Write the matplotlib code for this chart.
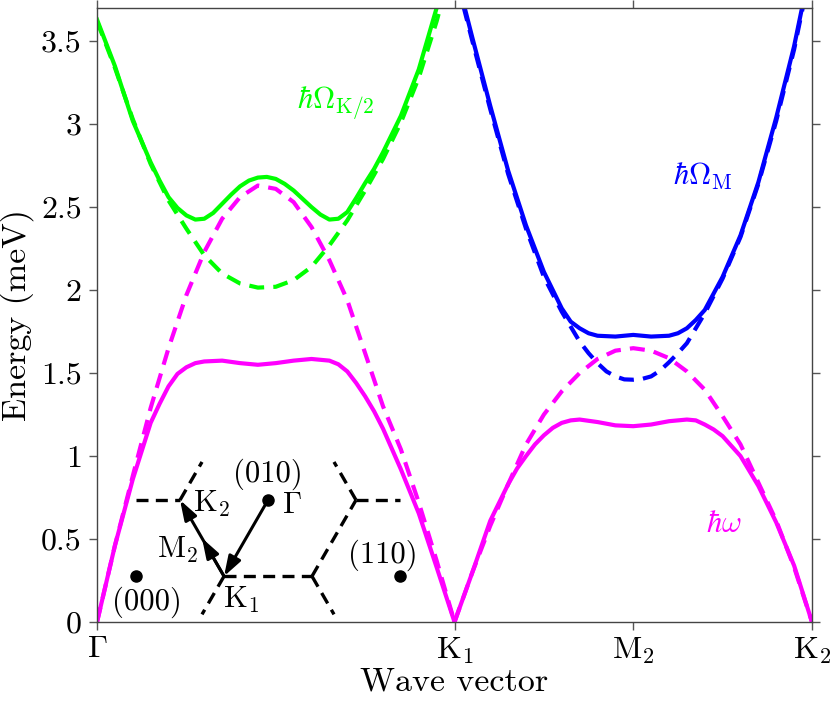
"""
Magnon-phonon band structure along Gamma - K1 - M2 - K2, with a small
Brillouin-zone sketch in the lower left corner.
"""

import matplotlib
matplotlib.use("Agg")
import matplotlib.pyplot as plt

plt.rcParams["font.family"] = "serif"
plt.rcParams["font.serif"] = ["cmr10"]
plt.rcParams["mathtext.fontset"] = "cm"
plt.rcParams["axes.unicode_minus"] = False
plt.rcParams["axes.formatter.use_mathtext"] = True

# -----------------------------------------------------------------------------
# Data, energies in meV
# -----------------------------------------------------------------------------

# Gamma -> K1 path
q_gk_bare = [0.00, 0.05, 0.10, 0.15, 0.20, 0.25, 0.30, 0.35, 0.40, 0.45, 0.50,
             0.55, 0.60, 0.65, 0.70, 0.75, 0.80, 0.85, 0.90, 0.95, 1.00]
phonon_bare_gk = [0.00, 0.46, 0.88, 1.29, 1.65, 1.97, 2.23, 2.43, 2.56, 2.63, 2.61,
                  2.53, 2.38, 2.18, 1.94, 1.62, 1.30, 1.04, 0.72, 0.37, 0.00]

q_gk_hyb = [0.00, 0.05, 0.10, 0.15, 0.175, 0.20, 0.225, 0.25, 0.275, 0.30, 0.35,
            0.40, 0.45, 0.50, 0.55, 0.60, 0.65, 0.675, 0.70, 0.725, 0.75, 0.775,
            0.80, 0.85, 0.90, 0.95, 1.00]
phonon_hyb_gk = [0.00, 0.46, 0.86, 1.20, 1.315, 1.42, 1.495, 1.535, 1.56, 1.57, 1.575,
                 1.56, 1.55, 1.56, 1.575, 1.585, 1.575, 1.553, 1.51, 1.44, 1.36, 1.27,
                 1.165, 0.92, 0.655, 0.33, 0.00]

q_green = [0.00, 0.05, 0.10, 0.15, 0.175, 0.20, 0.225, 0.25, 0.275, 0.30, 0.325,
           0.35, 0.375, 0.40, 0.425, 0.45, 0.475, 0.50, 0.525, 0.55, 0.575, 0.60,
           0.625, 0.65, 0.675, 0.70, 0.725, 0.75, 0.775, 0.80, 0.85, 0.90, 0.95]
magnon_k2_hyb = [3.63, 3.35, 3.02, 2.77, 2.66, 2.56, 2.495, 2.45, 2.425, 2.43, 2.465,
                 2.52, 2.575, 2.625, 2.66, 2.678, 2.682, 2.67, 2.64, 2.60, 2.55, 2.50,
                 2.455, 2.425, 2.43, 2.47, 2.555, 2.645, 2.73, 2.83, 3.05, 3.33, 3.70]

q_green_bare = [0.00, 0.05, 0.10, 0.15, 0.20, 0.25, 0.30, 0.35, 0.40, 0.45, 0.50,
                0.55, 0.60, 0.65, 0.70, 0.75, 0.80, 0.85, 0.90, 0.95, 0.96]
magnon_k2_bare = [3.62, 3.34, 3.03, 2.76, 2.54, 2.37, 2.21, 2.10, 2.04, 2.015, 2.02,
                  2.06, 2.14, 2.27, 2.42, 2.60, 2.79, 3.01, 3.28, 3.62, 3.70]

# K1 -> M2 -> K2 path
q_kk_bare = [1.00, 1.05, 1.10, 1.15, 1.20, 1.25, 1.30, 1.35, 1.40, 1.45, 1.50,
             1.55, 1.60, 1.65, 1.70, 1.75, 1.80, 1.85, 1.90, 1.95, 2.00]
phonon_bare_kk = [0.00, 0.30, 0.58, 0.83, 1.07, 1.25, 1.39, 1.50, 1.585, 1.635, 1.65,
                  1.635, 1.59, 1.51, 1.40, 1.24, 1.07, 0.84, 0.61, 0.33, 0.00]

q_kk_hyb = [1.00, 1.05, 1.10, 1.15, 1.175, 1.20, 1.225, 1.25, 1.275, 1.30, 1.325,
            1.35, 1.40, 1.45, 1.50, 1.55, 1.60, 1.65, 1.675, 1.70, 1.725, 1.75,
            1.775, 1.80, 1.825, 1.85, 1.90, 1.95, 2.00]
phonon_hyb_kk = [0.00, 0.30, 0.61, 0.83, 0.925, 1.00, 1.07, 1.125, 1.17, 1.20, 1.215,
                 1.22, 1.205, 1.185, 1.18, 1.19, 1.21, 1.22, 1.215, 1.19, 1.16, 1.12,
                 1.06, 1.00, 0.91, 0.82, 0.60, 0.34, 0.00]

q_blue = [1.025, 1.05, 1.10, 1.15, 1.20, 1.25, 1.30, 1.325, 1.35, 1.375, 1.40, 1.45,
          1.50, 1.55, 1.60, 1.625, 1.65, 1.675, 1.70, 1.75, 1.80, 1.85, 1.90, 1.95,
          1.975]
magnon_m_hyb = [3.73, 3.52, 3.11, 2.72, 2.39, 2.11, 1.89, 1.81, 1.77, 1.74, 1.725, 1.72,
                1.73, 1.72, 1.725, 1.74, 1.77, 1.82, 1.88, 2.08, 2.33, 2.65, 3.04, 3.47,
                3.73]

q_blue_bare = [1.025, 1.05, 1.10, 1.15, 1.20, 1.25, 1.30, 1.35, 1.375, 1.40, 1.425,
               1.45, 1.475, 1.50, 1.525, 1.55, 1.575, 1.60, 1.625, 1.65, 1.70, 1.75,
               1.80, 1.85, 1.90, 1.95, 1.975]
magnon_m_bare = [3.71, 3.50, 3.09, 2.70, 2.37, 2.08, 1.87, 1.69, 1.62, 1.56, 1.51,
                 1.48, 1.462, 1.46, 1.465, 1.48, 1.515, 1.565, 1.62, 1.68, 1.86, 2.07,
                 2.32, 2.64, 3.02, 3.45, 3.71]

tick_pos = [0, 1, 1.5, 2]
tick_names = [r"$\Gamma$", r"$\mathrm{K}_1$", r"$\mathrm{M}_2$", r"$\mathrm{K}_2$"]
e_ticks = [0, 0.5, 1, 1.5, 2, 2.5, 3, 3.5]
e_tick_names = ["0", "0.5", "1", "1.5", "2", "2.5", "3", "3.5"]

GREEN = "#00ff00"
MAGENTA = "#ff00ff"
BLUE = "#0000ff"
LW = 3.0
DASH = (0, (3.6, 2.2))
FS = 23
AXIS_FS = 24.5
LABEL_FS = 22

# -----------------------------------------------------------------------------
# Main plot
# -----------------------------------------------------------------------------

fig = plt.figure(figsize=(8.3, 7.05), dpi=100)
ax = fig.add_axes([0.1169, 0.1177, 0.8614, 0.8710])

# bare dispersions (dashed)
ax.plot(q_gk_bare, phonon_bare_gk, color=MAGENTA, lw=LW, ls=DASH)
ax.plot(q_kk_bare, phonon_bare_kk, color=MAGENTA, lw=LW, ls=DASH)
ax.plot(q_green_bare, magnon_k2_bare, color=GREEN, lw=LW, ls=DASH)
ax.plot(q_blue_bare, magnon_m_bare, color=BLUE, lw=LW, ls=DASH)

# hybridised modes (solid)
ax.plot(q_gk_hyb, phonon_hyb_gk, color=MAGENTA, lw=LW)
ax.plot(q_kk_hyb, phonon_hyb_kk, color=MAGENTA, lw=LW)
ax.plot(q_green, magnon_k2_hyb, color=GREEN, lw=LW)
ax.plot(q_blue, magnon_m_hyb, color=BLUE, lw=LW)

ax.text(0.559, 3.09, r"$\hbar\Omega_{\mathrm{K}/2}$", color=GREEN, fontsize=LABEL_FS,
        ha="left", va="baseline")
ax.text(1.611, 2.637, r"$\hbar\Omega_{\mathrm{M}}$", color=BLUE, fontsize=LABEL_FS,
        ha="left", va="baseline")
ax.text(1.703, 0.543, r"$\hbar\omega$", color=MAGENTA, fontsize=LABEL_FS,
        ha="left", va="baseline")

ax.set_xlim(0, 2)
ax.set_ylim(0, 3.7)
ax.set_xticks(tick_pos)
ax.set_xticklabels(tick_names)
ax.set_yticks(e_ticks)
ax.set_yticklabels(e_tick_names)
ax.tick_params(axis="both", which="major", labelsize=FS, direction="out",
               length=6, width=1, color="#555555", top=True, right=True)
ax.tick_params(axis="x", pad=4)
ax.tick_params(axis="y", pad=5)
for side in ax.spines.values():
    side.set_color("#444444")
    side.set_linewidth(1.0)

ax.set_xlabel("Wave vector", fontsize=AXIS_FS, labelpad=1)
ax.set_ylabel("Energy (meV)", fontsize=AXIS_FS, labelpad=5)

# -----------------------------------------------------------------------------
# Brillouin zone sketch (regular hexagons, circumradius = 1)
# -----------------------------------------------------------------------------

h = 3 ** 0.5 / 2
K1 = (-0.5, -h)
K2 = (-1.0, 0.0)
M2 = (-0.75, -h / 2)
G = (0.0, 0.0)

zone_centres = [(-1.5, -h), (0.0, 0.0), (1.5, -h)]
zone_edges = [
    ((-1.5, 0.0), (-1.0, 0.0)),
    ((-1.0, 0.0), (-0.75, h / 2)),
    ((-0.5, -h), (0.5, -h)),
    ((-0.5, -h), (-0.75, -1.5 * h)),
    ((0.5, -h), (1.0, 0.0)),
    ((0.5, -h), (0.75, -1.5 * h)),
    ((1.0, 0.0), (0.75, h / 2)),
    ((1.0, 0.0), (1.5, 0.0)),
]

ins = ax.inset_axes([-0.007, -0.002, 0.4923, 0.2866])
ins.set_xlim(-2, 2)
ins.set_ylim(-1.4, 0.6)
ins.axis("off")
ins.patch.set_alpha(0)

for (xa, ya), (xb, yb) in zone_edges:
    ins.plot([xa, xb], [ya, yb], color="k", lw=2.4, ls=(0, (3.6, 2.2)),
             solid_capstyle="butt", dash_capstyle="butt")

ins.plot([c[0] for c in zone_centres], [c[1] for c in zone_centres],
         "o", color="k", ms=8)

arrow = dict(arrowstyle="-|>,head_length=0.6,head_width=0.2", color="k",
             lw=2.2, shrinkA=0, shrinkB=0, mutation_scale=20)
ins.annotate("", xy=K1, xytext=G, arrowprops=arrow)
ins.annotate("", xy=K2, xytext=K1, arrowprops=arrow)
ins.annotate("", xy=M2, xytext=K1, arrowprops=arrow)

IFS = 22
ins.text(0.0, 0.21, "(010)", fontsize=IFS, ha="center", va="baseline")
ins.text(0.155, -0.15, r"$\Gamma$", fontsize=IFS, ha="left", va="baseline")
ins.text(-0.85, -0.133, r"$\mathrm{K}_2$", fontsize=IFS, ha="left", va="baseline")
ins.text(-1.26, -0.66, r"$\mathrm{M}_2$", fontsize=IFS, ha="left", va="baseline")
ins.text(-0.51, -1.23, r"$\mathrm{K}_1$", fontsize=IFS, ha="left", va="baseline")
ins.text(-1.376, -1.25, "(000)", fontsize=IFS, ha="center", va="baseline")
ins.text(1.31, -0.716, "(110)", fontsize=IFS, ha="center", va="baseline")

fig.savefig("out.png", dpi=100)
